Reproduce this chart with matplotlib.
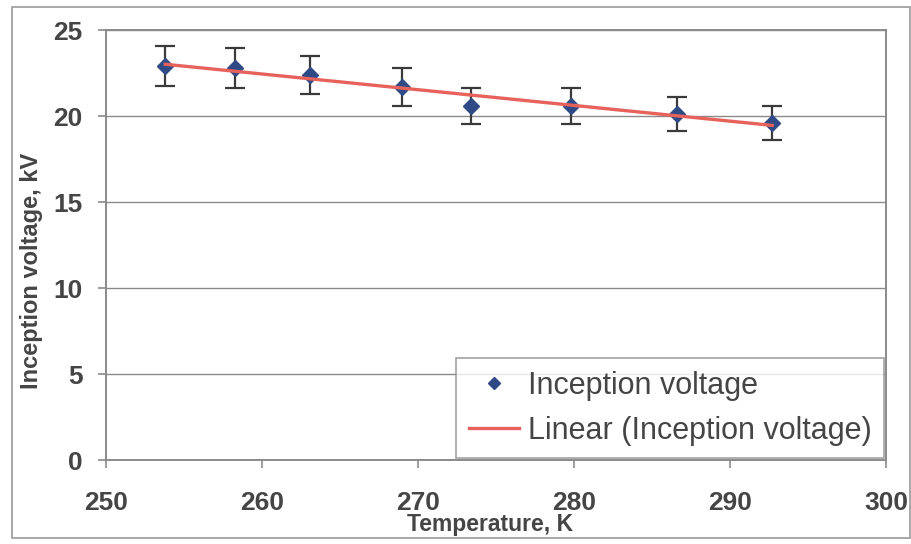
import numpy as np
import matplotlib
matplotlib.use('Agg')
import matplotlib.pyplot as plt
from matplotlib.patches import Rectangle

plt.rcParams['font.family'] = ['Liberation Sans', 'DejaVu Sans']

# data
temps = [253.8, 258.3, 263.1, 269.0, 273.4, 279.8, 286.6, 292.7]
volts = [22.9, 22.8, 22.4, 21.7, 20.6, 20.6, 20.1, 19.6]
errs = [1.15, 1.15, 1.1, 1.1, 1.05, 1.05, 1.0, 1.0]
x_ticks = [250, 260, 270, 280, 290, 300]
y_ticks = [0, 5, 10, 15, 20, 25]

text_col = '#454545'
grid_col = '#8a8a8a'
marker_col = '#2f4a86'
trend_col = '#e8625c'

fig = plt.figure(figsize=(9.12, 5.44), dpi=100)
ax = fig.add_axes([106/912, 1 - 460/544, (886 - 106)/912, (460 - 30)/544])

# outer chart border
fig.patches.append(Rectangle((12/912, 1 - 538/544), (910 - 12)/912, (538 - 7)/544,
                             transform=fig.transFigure, fill=False,
                             edgecolor='#9a9a9a', linewidth=1.2))

ax.errorbar(temps, volts, yerr=errs, fmt='none', ecolor='#3a3a3a',
            elinewidth=1.6, capsize=7, capthick=1.6, zorder=3)
ax.plot(temps, volts, 'D', color=marker_col, markersize=8, zorder=4,
        label='Inception voltage')

# linear trendline like excel
k, b = np.polyfit(temps, volts, 1)
tx = np.array([min(temps), max(temps)])
ax.plot(tx, k*tx + b, color=trend_col, linewidth=2.4, zorder=5,
        label='Linear (Inception voltage)')

ax.set_xlim(250, 300)
ax.set_ylim(0, 25)
ax.set_xticks(x_ticks)
ax.set_yticks(y_ticks)
ax.yaxis.grid(True, color=grid_col, linewidth=1.0)
ax.set_axisbelow(True)
for s in ax.spines.values():
  s.set_color(grid_col)
  s.set_linewidth(1.4)

ax.tick_params(axis='x', direction='out', length=6, width=1.2, color=grid_col,
               labelsize=19, labelcolor=text_col, pad=16)
ax.tick_params(axis='y', direction='out', length=6, width=1.2, color=grid_col,
               labelsize=19, labelcolor=text_col, pad=11)
for lab in ax.get_xticklabels() + ax.get_yticklabels():
  lab.set_fontweight('bold')

ax.set_xlabel('Temperature, K', fontsize=16.5, fontweight='bold', color=text_col)
ax.set_ylabel('Inception voltage, kV', fontsize=17, fontweight='bold', color=text_col)
ax.xaxis.set_label_coords(0.492, -0.124)
ax.yaxis.set_label_coords(-0.081, 0.44)

leg = ax.legend(loc='lower right', bbox_to_anchor=(1.0, 0.0), borderaxespad=0.06,
                fontsize=22, frameon=True, fancybox=False, handlelength=1.65,
                handletextpad=0.3, labelspacing=0.5, borderpad=0.4, markerscale=0.8)
leg.get_frame().set_edgecolor(grid_col)
leg.get_frame().set_linewidth(1.2)
for t in leg.get_texts():
  t.set_color(text_col)

fig.savefig('out.png', dpi=100)
